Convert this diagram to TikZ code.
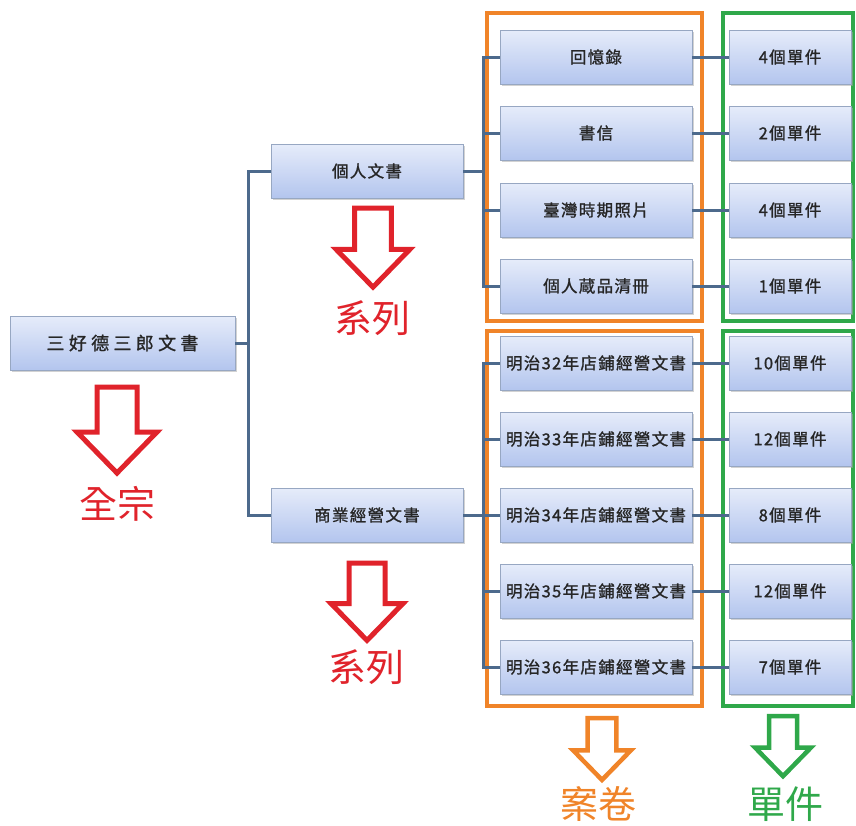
\documentclass[tikz,border=0pt]{standalone}
\usepackage{fontspec}
\newfontfamily\cjk{Noto Sans CJK TC}
\newfontfamily\cjkbox[LetterSpace=8, FakeBold=1.2]{Noto Sans CJK TC}
\newfontfamily\cjkroot[LetterSpace=24, FakeBold=1.2]{Noto Sans CJK TC}
\usetikzlibrary{shadows}
\definecolor{conncol}{HTML}{4D6A8C}
\definecolor{boxtop}{HTML}{E6ECFA}
\definecolor{boxbot}{HTML}{B3C5EE}
\definecolor{boxline}{HTML}{97A7C2}
\definecolor{myred}{HTML}{E0232B}
\definecolor{myorange}{HTML}{F08429}
\definecolor{mygreen}{HTML}{2FA84A}
\tikzset{
  bx/.style={draw=boxline, line width=0.8pt, top color=boxtop, bottom color=boxbot,
    minimum height=54pt, inner sep=0pt, text=black!85,
    font=\cjkbox\fontsize{16.5}{16.5}\selectfont,
    drop shadow={shadow xshift=1.5pt, shadow yshift=-2pt, fill=black!35}},
  casebox/.style={bx, minimum width=192pt},
  unitbox/.style={bx, minimum width=122pt},
  conn/.style={draw=conncol, line width=3pt},
  frame/.style={line width=4.5pt},
  lbl/.style={font=\cjk\fontsize{38}{38}\selectfont, inner sep=0pt},
  downarrow/.pic={\draw[pic actions, line join=miter]
    (-20,0) -- (20,0) -- (20,45) -- (40,45) -- (0,86) -- (-40,45) -- (-20,45) -- cycle;}
}
\begin{document}
\begin{tikzpicture}[x=1pt, y=-1pt]
\useasboundingbox (0,0) rectangle (856,825);

% frames
\draw[frame, myorange] (487,13) rectangle (702,321);
\draw[frame, myorange] (487,331) rectangle (702,706);
\draw[frame, mygreen] (723,13) rectangle (853,321);
\draw[frame, mygreen] (723,331) rectangle (853,706);

% nodes
\node[bx, minimum width=225pt, font=\cjkroot\fontsize{18}{18}\selectfont] (root) at (122.5,343) {三好德三郎文書};
\node[casebox] (s1) at (367,171) {個人文書};
\node[casebox] (s2) at (367,515) {商業經營文書};

\node[casebox] (c1) at (596,57) {回憶錄};
\node[casebox] (c2) at (596,133) {書信};
\node[casebox] (c3) at (596,210) {臺灣時期照片};
\node[casebox] (c4) at (596,286) {個人蔵品清冊};
\node[casebox] (d1) at (596,363) {明治32年店鋪經營文書};
\node[casebox] (d2) at (596,439) {明治33年店鋪經營文書};
\node[casebox] (d3) at (596,515) {明治34年店鋪經營文書};
\node[casebox] (d4) at (596,591) {明治35年店鋪經營文書};
\node[casebox] (d5) at (596,667) {明治36年店鋪經營文書};

\node[unitbox] (u1) at (790,57) {4個單件};
\node[unitbox] (u2) at (790,133) {2個單件};
\node[unitbox] (u3) at (790,210) {4個單件};
\node[unitbox] (u4) at (790,286) {1個單件};
\node[unitbox] (v1) at (790,363) {10個單件};
\node[unitbox] (v2) at (790,439) {12個單件};
\node[unitbox] (v3) at (790,515) {8個單件};
\node[unitbox] (v4) at (790,591) {12個單件};
\node[unitbox] (v5) at (790,667) {7個單件};

% connectors
\coordinate (j1) at (248,343);
\coordinate (j2) at (483,171);
\coordinate (j3) at (483,515);
\draw[conn] (root.east) -- (j1);
\draw[conn] (s1.west) -| (j1) |- (s2.west);
\draw[conn] (s1.east) -- (j2);
\draw[conn] (s2.east) -- (j3);
\draw[conn] (c1.west) -- (c1.west -| j2) -- (c4.west -| j2) -- (c4.west);
\draw[conn] (c2.west -| j2) -- (c2.west);
\draw[conn] (c3.west -| j2) -- (c3.west);
\draw[conn] (d1.west) -- (d1.west -| j3) -- (d5.west -| j3) -- (d5.west);
\draw[conn] (d2.west -| j3) -- (d2.west);
\draw[conn] (d3.west -| j3) -- (d3.west);
\draw[conn] (d4.west -| j3) -- (d4.west);
\foreach \a/\b in {c1/u1,c2/u2,c3/u3,c4/u4,d1/v1,d2/v2,d3/v3,d4/v4,d5/v5}
  \draw[conn] (\a.east) -- (\b.west);

% arrows and labels
\pic[draw=myred, line width=5pt] at (117,387) {downarrow};
\node[lbl, text=myred] (l1) at (117,504) {全宗};
\pic[draw=myred, line width=5pt, scale=0.92] at (373,208) {downarrow};
\node[lbl, text=myred] (l2) at (372,318) {系列};
\pic[draw=myred, line width=5pt, scale=0.9] at (367,563) {downarrow};
\node[lbl, text=myred] (l3) at (366,667) {系列};
\pic[draw=myorange, line width=4.5pt, scale=0.72] at (602,718) {downarrow};
\node[lbl, text=myorange] (l4) at (598,804) {案卷};
\pic[draw=mygreen, line width=4.5pt, scale=0.7] at (783,716) {downarrow};
\node[lbl, text=mygreen] (l5) at (785,804) {單件};
\end{tikzpicture}
\end{document}
